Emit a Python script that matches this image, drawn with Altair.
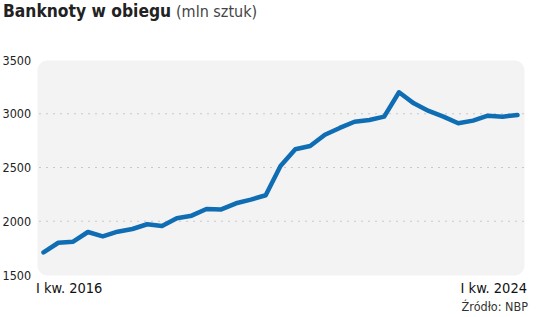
import altair as alt
import pandas as pd

quarters = [
    "I kw. 2016", "II kw. 2016", "III kw. 2016", "IV kw. 2016",
    "I kw. 2017", "II kw. 2017", "III kw. 2017", "IV kw. 2017",
    "I kw. 2018", "II kw. 2018", "III kw. 2018", "IV kw. 2018",
    "I kw. 2019", "II kw. 2019", "III kw. 2019", "IV kw. 2019",
    "I kw. 2020", "II kw. 2020", "III kw. 2020", "IV kw. 2020",
    "I kw. 2021", "II kw. 2021", "III kw. 2021", "IV kw. 2021",
    "I kw. 2022", "II kw. 2022", "III kw. 2022", "IV kw. 2022",
    "I kw. 2023", "II kw. 2023", "III kw. 2023", "IV kw. 2023",
    "I kw. 2024",
]
banknotes = [1710, 1800, 1810, 1900, 1860, 1903, 1928, 1972, 1956, 2028, 2052,
             2114, 2110, 2167, 2201, 2242, 2514, 2670, 2700, 2805, 2868, 2926,
             2942, 2973, 3200, 3097, 3026, 2973, 2911, 2936, 2982, 2973, 2988]
y_ticks = [1500, 2000, 2500, 3000, 3500]
grid_values = [2000, 2500, 3000]
x_ticks = ["I kw. 2016", "I kw. 2024"]

FONT = "DejaVu Sans Condensed"

df = pd.DataFrame({"q": quarters, "v": banknotes})
grid_df = pd.DataFrame({"g": grid_values})
one = pd.DataFrame({"a": [0]})

W, H = 487, 215

x_enc = alt.X(
    "q:O", sort=quarters,
    scale=alt.Scale(type="point", padding=0.44),
    axis=alt.Axis(
        values=x_ticks, title=None, ticks=False, domain=False, grid=False,
        labelAngle=0, labelFont=FONT, labelFontSize=14.5, labelColor="#111",
        labelPadding=6, labelBaseline="top",
        labelAlign={"expr": "datum.value == 'I kw. 2016' ? 'left' : 'right'"},
        labelOffset={"expr": "datum.value == 'I kw. 2016' ? -8 : 9"},
    ),
)
y_scale = alt.Scale(domain=[1500, 3500], nice=False, zero=False)

line = alt.Chart(df).mark_line(
    color="#0f6db4", strokeWidth=4.5, strokeJoin="round", strokeCap="round"
).encode(
    x=x_enc,
    y=alt.Y("v:Q", scale=y_scale, axis=alt.Axis(
        values=y_ticks, title=None, ticks=False, domain=False, grid=False,
        format="d",
        labelFont=FONT, labelFontSize=12.5, labelColor="#222",
        labelAlign="left", labelPadding=35, labelBaseline="middle",
    )),
)

grid = alt.Chart(grid_df).mark_rule(
    color="#c8c8c8", strokeWidth=1, strokeDash=[2, 5]
).encode(y=alt.Y("g:Q", scale=y_scale))

title1 = alt.Chart(one).mark_text(
    text="Banknoty w obiegu", font=FONT, fontSize=17.3, fontWeight="bold",
    color="#222", align="left", baseline="alphabetic"
).encode(x=alt.value(-34), y=alt.value(-43))

title2 = alt.Chart(one).mark_text(
    text="(mln sztuk)", font=FONT, fontSize=16, fontWeight="normal",
    color="#444", align="left", baseline="alphabetic"
).encode(x=alt.value(139), y=alt.value(-43))

source = alt.Chart(one).mark_text(
    text="Źródło: NBP", font=FONT, fontSize=12.5, color="#333",
    align="right", baseline="middle"
).encode(x=alt.value(491), y=alt.value(247))

chart = alt.layer(grid, line, title1, title2, source).properties(
    width=W, height=H,
    autosize=alt.AutoSizeParams(type="none"),
    padding={"left": 37, "top": 60, "right": 12, "bottom": 42},
    background="white",
).configure_view(
    fill="#f3f3f3", cornerRadius=10, stroke="transparent"
)

chart.save("out.html", embed_options={"renderer": "svg", "actions": False})
